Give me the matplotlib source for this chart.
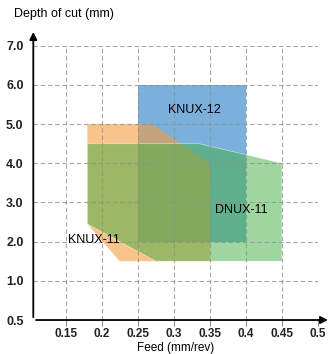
import matplotlib
matplotlib.use("Agg")
import matplotlib.pyplot as plt
from matplotlib.patches import Polygon

plt.rcParams["font.family"] = ["Liberation Sans", "DejaVu Sans"]

# Feed (mm/rev) and depth of cut (mm) for each insert's working area.
knux11_feed = [0.18, 0.27, 0.35, 0.35, 0.225, 0.18]
knux11_depth = [5.0, 5.0, 4.0, 1.5, 1.5, 2.45]
knux12_feed = [0.25, 0.40, 0.40, 0.25]
knux12_depth = [6.0, 6.0, 2.0, 2.0]
dnux11_feed = [0.18, 0.335, 0.45, 0.45, 0.275, 0.18]
dnux11_depth = [4.5, 4.5, 4.0, 1.5, 1.5, 2.45]

x_ticks = [0.15, 0.2, 0.25, 0.3, 0.35, 0.4, 0.45, 0.5]
x_labels = ["0.15", "0.2", "0.25", "0.3", "0.35", "0.4", "0.45", "0.5"]
y_ticks = [0.5, 1.0, 2.0, 3.0, 4.0, 5.0, 6.0, 7.0]
y_labels = ["0.5", "1.0", "2.0", "3.0", "4.0", "5.0", "6.0", "7.0"]


def ypos(v):
    # the axis is broken below 1.0: 0.5 sits one full step under 1.0
    return v if v >= 1 else 2 * v - 1


fig = plt.figure(figsize=(3.35, 3.54), dpi=100)
ax = fig.add_axes([0.0994, 0.096, 0.8498, 0.775])
ax.set_xlim(0.105, 0.5)
ax.set_ylim(0, 7)

# blue first, then translucent orange and green over it
ax.add_patch(Polygon(list(zip(knux12_feed, [ypos(v) for v in knux12_depth])),
                     closed=True, facecolor=(122/255, 176/255, 219/255), edgecolor="none", zorder=1))
ax.add_patch(Polygon(list(zip(knux11_feed, [ypos(v) for v in knux11_depth])),
                     closed=True, facecolor=(246/255, 155/255, 63/255), alpha=0.6, edgecolor="none", zorder=2))
ax.add_patch(Polygon(list(zip(dnux11_feed, [ypos(v) for v in dnux11_depth])),
                     closed=True, facecolor=(65/255, 175/255, 65/255), alpha=0.5,
                     edgecolor=(1, 1, 1, 0.6), linewidth=0.6, zorder=3))

grid_kw = dict(color="#909090", linestyle=(0, (4, 2.5)), linewidth=0.8, alpha=0.8, zorder=4)
for xv in x_ticks:
    ax.plot([xv, xv], [0, 7], **grid_kw)
for yv in y_ticks[1:]:
    ax.plot([0.105, 0.5], [ypos(yv), ypos(yv)], **grid_kw)

ax.text(0.328, 5.36, "KNUX-12", fontsize=9, ha="center", va="center", zorder=5)
ax.text(0.394, 2.8, "DNUX-11", fontsize=9, ha="center", va="center", zorder=5)
ax.text(0.153, 2.03, "KNUX-11", fontsize=9, ha="left", va="center", zorder=5)

for s in ax.spines.values():
    s.set_visible(False)

ax.set_xticks(x_ticks)
ax.set_xticklabels(x_labels, fontsize=8.5, fontweight="bold", color="#222222")
ax.set_yticks([ypos(v) for v in y_ticks])
ax.set_yticklabels(y_labels, fontsize=9, fontweight="bold", color="#222222")
ax.tick_params(axis="x", length=4, width=0.8, color="#909090", pad=2)
ax.tick_params(axis="y", length=0, pad=7)

# arrowed axes running past the plot area
ax.annotate("", xy=(1.045, 0), xytext=(0, 0), xycoords="axes fraction",
            arrowprops=dict(arrowstyle="-|>", color="black", lw=1.3, mutation_scale=11),
            annotation_clip=False, zorder=6)
ax.annotate("", xy=(0, 1.06), xytext=(0, 0), xycoords="axes fraction",
            arrowprops=dict(arrowstyle="-|>", color="black", lw=1.3, mutation_scale=11),
            annotation_clip=False, zorder=6)

fig.text(14/335, 1 - 14/354, "Depth of cut (mm)", fontsize=9, ha="left", va="center")
fig.text(176/335, 1 - 348.5/354, "Feed (mm/rev)", fontsize=8.5, ha="center", va="center")

fig.savefig("out.png", dpi=100)
